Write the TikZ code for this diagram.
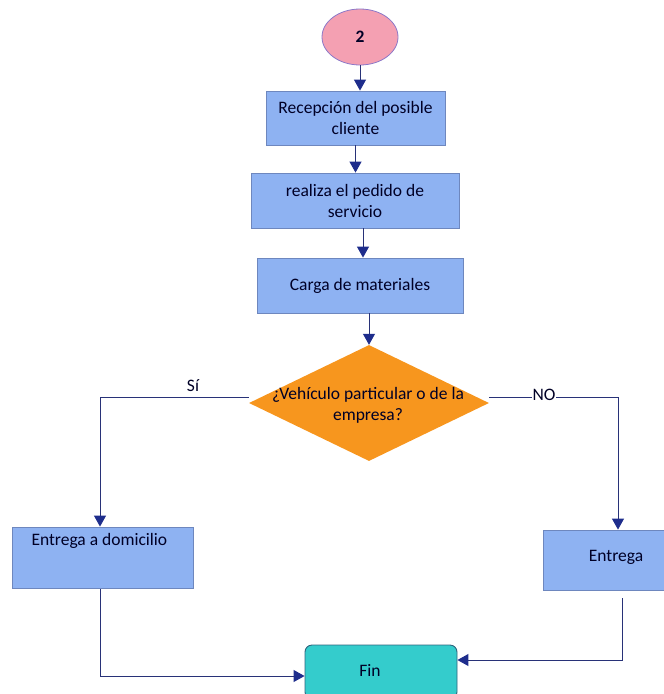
\documentclass[tikz,border=0pt]{standalone}
\usepackage{fontspec}
\setmainfont{Carlito}
\usetikzlibrary{shapes.geometric,arrows.meta}
\definecolor{boxfill}{RGB}{142,178,242}
\definecolor{boxline}{RGB}{110,135,190}
\definecolor{pinkfill}{RGB}{244,160,178}
\definecolor{pinkline}{RGB}{140,120,200}
\definecolor{orangefill}{RGB}{247,150,30}
\definecolor{finfill}{RGB}{52,204,204}
\definecolor{finline}{RGB}{45,100,125}
\definecolor{conn}{RGB}{40,50,120}
\definecolor{tip}{RGB}{30,45,140}
\tikzset{
  txt/.style={font=\fontsize{17.5}{21}\selectfont, text=black!85!blue},
  procbox/.style={draw=boxline, fill=boxfill, line width=0.8pt, inner sep=0pt, txt, align=center},
  conline/.style={draw=conn, line width=1pt, -{Triangle[length=11pt,width=12pt,fill=tip,color=tip]}},
  lbl/.style={txt, inner sep=1pt, fill=white}
}
\begin{document}
\begin{tikzpicture}[x=1pt,y=-1pt]
\useasboundingbox (0,0) rectangle (664,694);
% start
\node[ellipse, draw=pinkline, fill=pinkfill, line width=0.8pt, minimum width=76pt, minimum height=56pt, inner sep=0pt, txt, font=\fontsize{17.5}{21}\selectfont\bfseries] (start) at (360,37) {2};
% boxes
\node[procbox, minimum width=179pt, minimum height=54pt] (b1) at (355.5,118) {Recepción del posible\\cliente};
\node[procbox, minimum width=208pt, minimum height=55pt] (b2) at (355,200.5) {realiza el pedido de\\servicio};
\node[procbox, minimum width=206pt, minimum height=55pt] (b3) at (360,285.5) {Carga de materiales};
% decision
\node[diamond, draw=none, fill=orangefill, minimum width=240pt, minimum height=116pt, inner sep=0pt] (d) at (369,403) {};
\node[txt, align=center] (dt) at (368,405) {¿Vehículo particular o de la\\empresa?};
% branches
\node[procbox, minimum width=181pt, minimum height=61pt] (b4) at (102.5,557.5) {};
\node[txt, anchor=west] (b4t) at (28,541) {Entrega a domicilio};
\node[procbox, minimum width=124pt, minimum height=60pt] (b5) at (605,560) {};
\node[txt] (b5t) at (616,557) {Entrega};
% end
\node[rounded corners=7pt, draw=finline, fill=finfill, line width=0.9pt, minimum width=152pt, minimum height=54pt, inner sep=0pt] (fin) at (381,672) {};
\node[txt] (fint) at (370,670) {Fin};
% connectors
\draw[conline] (start.south) -- (start.south |- b1.north);
\draw[conline] (b1.south) -- (b1.south |- b2.north);
\coordinate (c2) at (363,228);
\draw[conline] (c2) -- (c2 |- b3.north);
\draw[conline] (d.north |- b3.south) -- (d.north);
\coordinate (lc) at (100,397);
\coordinate (rc) at (618,397);
\draw[conline] (d.west |- 0,397) -- (lc) -- (lc |- b4.north);
\draw[conline] (d.east |- 0,397) -- (rc) -- (rc |- b5.north);
\node[lbl] (si) at (193,386) {Sí};
\node[lbl] (no) at (544,395) {NO};
\coordinate (lb) at (100,589);
\coordinate (rb) at (622,598);
\draw[conline] (lb) -- (lb |- 0,676) -- (fin.west |- 0,676);
\draw[conline] (rb) -- (rb |- 0,660) -- (fin.east |- 0,660);
\end{tikzpicture}
\end{document}
